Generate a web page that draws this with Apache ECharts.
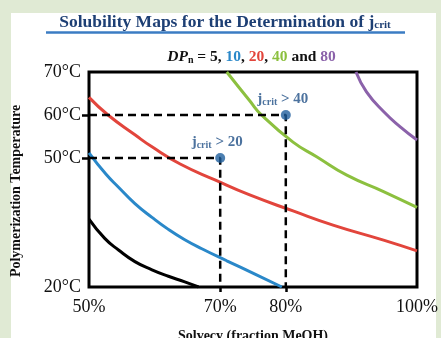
<!DOCTYPE html>
<html>
<head>
<meta charset="utf-8">
<script src="https://cdn.jsdelivr.net/npm/echarts@6/dist/echarts.min.js"></script>
<style>
  html, body { margin: 0; padding: 0; background: #e0ead4; }
  #panel { position: absolute; left: 11px; top: 13px; width: 425px; height: 325px; background: #fff; }
  #chart { position: absolute; left: 0; top: 0; width: 441px; height: 338px; }
</style>
</head>
<body>
<div id="panel"></div>
<div id="chart"></div>
<script>
// solvency (% MeOH) and polymerization temperature (°C)
const dp5X = [50, 52.4, 54.5, 57.0, 59.6, 62.1, 64.6, 66.7];
const dp5T = [35.8, 31.3, 28.6, 25.9, 24.0, 22.5, 21.2, 20];
const dp10X = [50, 52.6, 54.5, 57.0, 59.6, 62.1, 64.6, 67.2, 71.0, 75.3, 79.4];
const dp10T = [51.2, 46.2, 43.2, 39.4, 36.2, 33.4, 31.0, 28.9, 26.1, 23.0, 20];
const dp20X = [50, 52.9, 57.0, 59.6, 63.9, 69.2, 74.5, 81.1, 87.2, 94.9, 100];
const dp20T = [64.1, 60.0, 55.4, 52.6, 48.6, 44.9, 41.4, 37.7, 34.4, 30.9, 28.4];
const dp40X = [71.0, 74.5, 76.3, 81.1, 84.7, 89.3, 94.9, 100];
const dp40T = [70, 63.3, 60.0, 53.7, 50.3, 46.0, 42.2, 38.5];
const dp80X = [90.7, 92.3, 94.9, 97.4, 100];
const dp80T = [70, 65.4, 60.8, 57.3, 54.2];

// j_crit threshold points
const pointX = [70, 80];
const pointT = [50, 60];
const jcrit = [20, 40];

const xTicks = [50, 70, 80, 100];
const yTicks = [20, 50, 60, 70];

const serif = '"Liberation Serif", "DejaVu Serif", serif';
const zip = (xs, ys) => xs.map((x, i) => [x, ys[i]]);

const curve = (name, xs, ys, color) => ({
  name,
  type: 'line',
  smooth: 0.5,
  showSymbol: false,
  silent: true,
  data: zip(xs, ys),
  lineStyle: { color, width: 3 },
  z: 3,
});

const guides = pointX.map((x, i) => ({
  type: 'line',
  silent: true,
  showSymbol: false,
  data: [[50, pointT[i]], [x, pointT[i]], [x, 20]],
  lineStyle: { color: '#000', width: 2.5, type: [8, 5] },
  z: 4,
}));

const chart = echarts.init(document.getElementById('chart'));

chart.setOption({
  animation: false,
  grid: {
    left: 89, top: 72, width: 328, height: 215,
    show: true, borderColor: '#000', borderWidth: 3,
    backgroundColor: 'transparent',
  },
  xAxis: {
    type: 'value', min: 50, max: 100,
    splitLine: { show: false },
    axisLine: { show: false },
    axisTick: { show: true, customValues: [70, 80], length: 5, lineStyle: { color: '#000', width: 2.5 } },
    axisLabel: {
      customValues: xTicks, margin: 11,
      formatter: (v) => v + '%',
      fontFamily: serif, fontSize: 18, color: '#111',
    },
  },
  yAxis: {
    type: 'value', min: 20, max: 70,
    splitLine: { show: false },
    axisLine: { show: false },
    axisTick: { show: true, customValues: [50, 60], length: 7, lineStyle: { color: '#000', width: 2.5 } },
    axisLabel: {
      customValues: yTicks, margin: 8,
      formatter: (v) => v + '°C',
      fontFamily: serif, fontSize: 18, color: '#111',
    },
  },
  graphic: [
    {
      type: 'text', x: 225, y: 20,
      style: {
        text: '{t|Solubility Maps for the Determination of j}{s|crit}',
        align: 'center', verticalAlign: 'middle',
        rich: {
          t: { fontFamily: serif, fontSize: 17.5, fontWeight: 'bold', fill: '#1d3f74', lineHeight: 22, verticalAlign: 'bottom' },
          s: { fontFamily: serif, fontSize: 11, fontWeight: 'bold', fill: '#1d3f74', lineHeight: 11, verticalAlign: 'bottom' },
        },
      },
    },
    {
      type: 'line',
      shape: { x1: 46, y1: 32.5, x2: 405, y2: 32.5 },
      style: { stroke: '#3b7cc3', lineWidth: 2.5 },
    },
    {
      type: 'text', x: 251.5, y: 55,
      style: {
        text: '{i|DP}{s|n}{b| = 5, }{c1|10}{b|, }{c2|20}{b|, }{c3|40}{b| and }{c4|80}',
        align: 'center', verticalAlign: 'middle',
        rich: {
          i: { fontFamily: serif, fontSize: 15.5, fontWeight: 'bold', fontStyle: 'italic', fill: '#111', lineHeight: 20, verticalAlign: 'bottom' },
          s: { fontFamily: serif, fontSize: 10, fontWeight: 'bold', fill: '#111', lineHeight: 10, verticalAlign: 'bottom' },
          b: { fontFamily: serif, fontSize: 15.5, fontWeight: 'bold', fill: '#111', lineHeight: 20, verticalAlign: 'bottom' },
          c1: { fontFamily: serif, fontSize: 15.5, fontWeight: 'bold', fill: '#2a88c9', lineHeight: 20, verticalAlign: 'bottom' },
          c2: { fontFamily: serif, fontSize: 15.5, fontWeight: 'bold', fill: '#e2453c', lineHeight: 20, verticalAlign: 'bottom' },
          c3: { fontFamily: serif, fontSize: 15.5, fontWeight: 'bold', fill: '#8cc03f', lineHeight: 20, verticalAlign: 'bottom' },
          c4: { fontFamily: serif, fontSize: 15.5, fontWeight: 'bold', fill: '#8b62aa', lineHeight: 20, verticalAlign: 'bottom' },
        },
      },
    },
    {
      type: 'text', x: 16.5, y: 191, rotation: Math.PI / 2,
      style: {
        text: 'Polymerization Temperature',
        align: 'center', verticalAlign: 'middle',
        font: 'bold 14px ' + serif, fill: '#111',
      },
    },
    {
      type: 'text', x: 253, y: 336,
      style: {
        text: 'Solvecy (fraction MeOH)',
        align: 'center', verticalAlign: 'middle',
        font: 'bold 14px ' + serif, fill: '#111',
      },
    },
  ],
  series: [
    curve('DPn 5', dp5X, dp5T, '#000'),
    curve('DPn 10', dp10X, dp10T, '#2a88c9'),
    curve('DPn 20', dp20X, dp20T, '#e2453c'),
    curve('DPn 40', dp40X, dp40T, '#8cc03f'),
    curve('DPn 80', dp80X, dp80T, '#8b62aa'),
    ...guides,
    {
      type: 'scatter',
      silent: true,
      symbolSize: 10,
      data: zip(pointX, pointT),
      itemStyle: { color: '#1f5f9e' },
      z: 5,
      label: {
        show: true,
        position: 'top',
        distance: 3,
        offset: [-3, 0],
        formatter: (p) => '{j|j}{s|crit}{j| > ' + jcrit[p.dataIndex] + '}',
        rich: {
          j: { fontFamily: serif, fontSize: 15, fontWeight: 'bold', color: '#1f4f86', lineHeight: 20, verticalAlign: 'bottom' },
          s: { fontFamily: serif, fontSize: 10, fontWeight: 'bold', color: '#1f4f86', lineHeight: 10, verticalAlign: 'bottom' },
        },
      },
    },
  ],
});
</script>
</body>
</html>
